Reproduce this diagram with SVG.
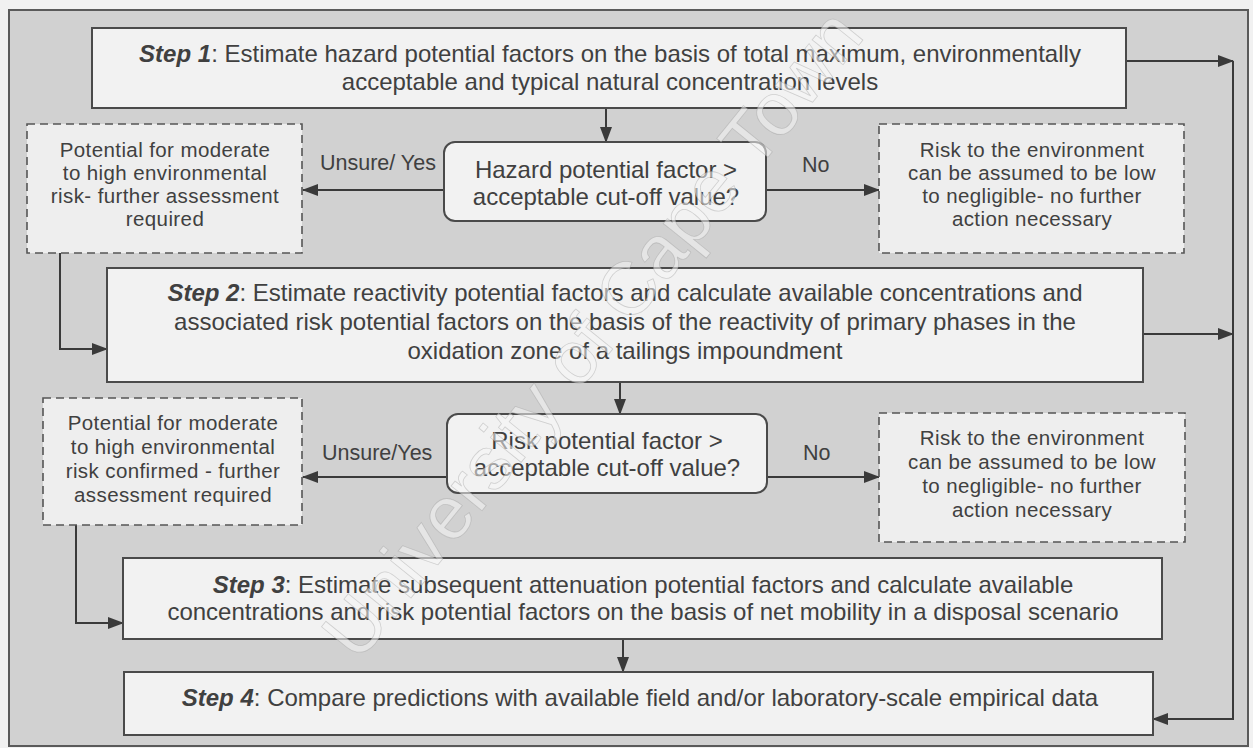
<svg xmlns="http://www.w3.org/2000/svg" width="1253" height="748" viewBox="0 0 1253 748">
  <defs>
    <marker id="arrow" viewBox="0 0 16 12" refX="15" refY="6" markerWidth="16" markerHeight="12" markerUnits="userSpaceOnUse" orient="auto">
      <path d="M0,0 L16,6 L0,12 Z" fill="#3a3a3a"/>
    </marker>
    <style>
      .frame { fill: #d1d1d1; stroke: #5a5a5a; stroke-width: 2; }
      .step { fill: #f2f2f2; stroke: #4a4a4a; stroke-width: 2; }
      .decision { fill: #f2f2f2; stroke: #4a4a4a; stroke-width: 2; }
      .outcome { fill: #eeeeee; stroke: #555; stroke-width: 1.6; stroke-dasharray: 8 5; }
      .conn { fill: none; stroke: #3a3a3a; stroke-width: 2; marker-end: url(#arrow); }
      text { font-family: "Liberation Sans", Arial, sans-serif; fill: #404040; }
      .st { font-size: 24px; text-anchor: middle; }
      .dt { font-size: 24px; text-anchor: middle; }
      .ot { font-size: 20.5px; letter-spacing: 0.4px; text-anchor: middle; }
      .lb { font-size: 21.5px; }
      .bi { font-weight: bold; font-style: italic; }
      .mark { font-size: 75px; fill: #f5f5f5; fill-opacity: 0.55; stroke: #8c8c8c; stroke-opacity: 0.35; stroke-width: 0.8; text-anchor: middle; }
    </style>
  </defs>

  <!-- page and framed panel -->
  <rect x="0" y="0" width="1253" height="748" fill="#f1f1f1"/>
  <rect class="frame" x="9" y="10" width="1239" height="736"/>

  <!-- connectors -->
  <g id="connectors">
    <path class="conn" d="M606,108 V142"/>
    <path class="conn" d="M444,190 H303"/>
    <path class="conn" d="M766,190 H879"/>
    <path class="conn" d="M60,253 V349 H107"/>
    <path class="conn" d="M620,382 V414"/>
    <path class="conn" d="M447,477 H303"/>
    <path class="conn" d="M767,477 H879"/>
    <path class="conn" d="M76,525 V623 H123"/>
    <path class="conn" d="M623,639 V672"/>
    <path class="conn" d="M1126,61 H1233"/>
    <path class="conn" d="M1143,334 H1233"/>
    <path class="conn" d="M1233,61 V719 H1153"/>
  </g>

  <g id="step1">
    <rect class="step" x="92" y="28" width="1034" height="80"/>
    <text class="st" x="610" y="62"><tspan class="bi">Step 1</tspan>: Estimate hazard potential factors on the basis of total maximum, environmentally</text>
    <text class="st" x="610" y="90">acceptable and typical natural concentration levels</text>
  </g>

  <g id="decision1">
    <rect class="decision" x="444" y="142" width="322" height="79" rx="11"/>
    <text class="dt" x="606" y="178">Hazard potential factor &gt;</text>
    <text class="dt" x="606" y="205">acceptable cut-off value?</text>
  </g>

  <g id="outcome1-yes">
    <rect class="outcome" x="27" y="124" width="275" height="129"/>
    <text class="ot" x="165" y="157">Potential for moderate</text>
    <text class="ot" x="165" y="180">to high environmental</text>
    <text class="ot" x="165" y="203">risk- further assessment</text>
    <text class="ot" x="165" y="226">required</text>
  </g>

  <g id="outcome1-no">
    <rect class="outcome" x="879" y="124" width="305" height="129"/>
    <text class="ot" x="1032" y="157">Risk to the environment</text>
    <text class="ot" x="1032" y="180">can be assumed to be low</text>
    <text class="ot" x="1032" y="203">to negligible- no further</text>
    <text class="ot" x="1032" y="226">action necessary</text>
  </g>

  <g id="labels1">
    <text class="lb" x="320" y="170">Unsure/ Yes</text>
    <text class="lb" x="802" y="172">No</text>
  </g>

  <g id="step2">
    <rect class="step" x="107" y="268" width="1036" height="114"/>
    <text class="st" x="625" y="301"><tspan class="bi">Step 2</tspan>: Estimate reactivity potential factors and calculate available concentrations and</text>
    <text class="st" x="625" y="330">associated risk potential factors on the basis of the reactivity of primary phases in the</text>
    <text class="st" x="625" y="359">oxidation zone of a tailings impoundment</text>
  </g>

  <g id="decision2">
    <rect class="decision" x="447" y="414" width="320" height="79" rx="11"/>
    <text class="dt" x="607" y="449">Risk potential factor &gt;</text>
    <text class="dt" x="607" y="476">acceptable cut-off value?</text>
  </g>

  <g id="outcome2-yes">
    <rect class="outcome" x="43" y="398" width="259" height="127"/>
    <text class="ot" x="173" y="430">Potential for moderate</text>
    <text class="ot" x="173" y="454">to high environmental</text>
    <text class="ot" x="173" y="478">risk confirmed - further</text>
    <text class="ot" x="173" y="502">assessment required</text>
  </g>

  <g id="outcome2-no">
    <rect class="outcome" x="879" y="413" width="306" height="129"/>
    <text class="ot" x="1032" y="445">Risk to the environment</text>
    <text class="ot" x="1032" y="469">can be assumed to be low</text>
    <text class="ot" x="1032" y="493">to negligible- no further</text>
    <text class="ot" x="1032" y="517">action necessary</text>
  </g>

  <g id="labels2">
    <text class="lb" x="322" y="460">Unsure/Yes</text>
    <text class="lb" x="803" y="460">No</text>
  </g>

  <g id="step3">
    <rect class="step" x="123" y="558" width="1039" height="81"/>
    <text class="st" x="643" y="593"><tspan class="bi">Step 3</tspan>: Estimate subsequent attenuation potential factors and calculate available</text>
    <text class="st" x="643" y="620">concentrations and risk potential factors on the basis of net mobility in a disposal scenario</text>
  </g>

  <g id="step4">
    <rect class="step" x="124" y="672" width="1029" height="63"/>
    <text class="st" x="640" y="706"><tspan class="bi">Step 4</tspan>: Compare predictions with available field and/or laboratory-scale empirical data</text>
  </g>

  <!-- diagonal ownership stamp across the panel -->
  <text class="mark" x="612" y="350" transform="rotate(-51 612 350)">University of Cape Town</text>
</svg>
